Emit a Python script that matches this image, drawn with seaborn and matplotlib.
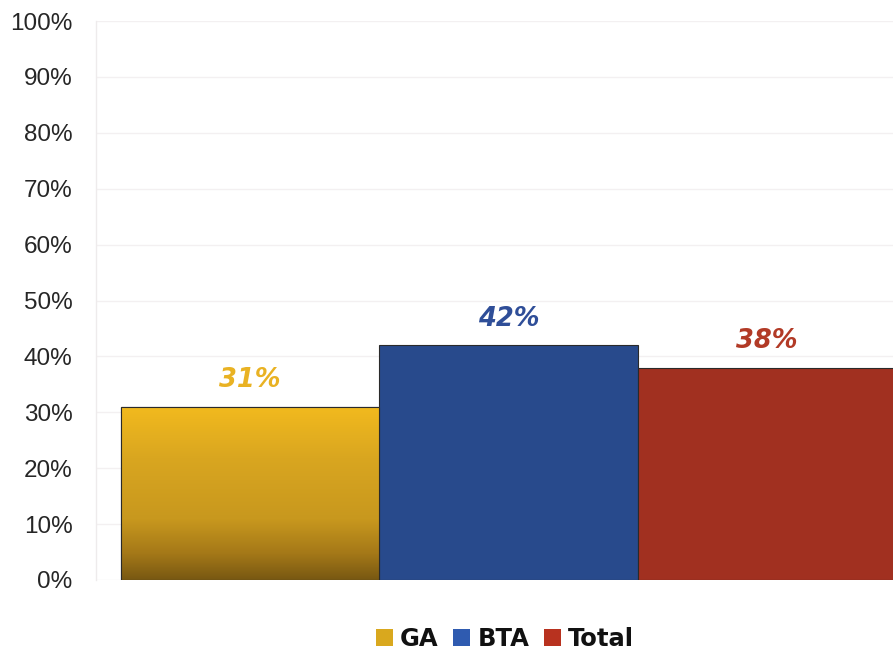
import numpy as np
import matplotlib
matplotlib.use("Agg")
import matplotlib.pyplot as plt
from matplotlib.patches import Patch, Rectangle
from matplotlib.colors import LinearSegmentedColormap
import seaborn as sns

# Share of respondents per group
categories = ["GA", "BTA", "Total"]
values = [31, 42, 38]
bar_colors = ["#D9A21E", "#284A8C", "#A13020"]
label_colors = ["#E9B223", "#2F4E98", "#B23A26"]
yticks = list(range(0, 101, 10))

sns.set_theme(style="white")
plt.rcParams["font.family"] = ["Liberation Sans", "DejaVu Sans"]

fig = plt.figure(figsize=(8.93, 6.56), dpi=100)
ax = fig.add_axes([96 / 893, 76 / 656, 797 / 893, 559 / 656])

sns.barplot(x=categories, y=values, hue=categories, palette=bar_colors,
            saturation=1, width=1.0, legend=False, ax=ax,
            edgecolor="#2a2a2a", linewidth=0.8, zorder=3)

# vertical gold gradient on the GA bar
ga = ax.patches[0]
x0, w = ga.get_x(), ga.get_width()
h = ga.get_height()
cmap = LinearSegmentedColormap.from_list(
    "gold", [(0.0, "#785812"), (0.15, "#A47818"), (0.35, "#C8981E"),
             (0.7, "#D9A620"), (1.0, "#F2BA1E")])
grad = np.linspace(0, 1, 256).reshape(-1, 1)
img = ax.imshow(grad, cmap=cmap, origin="lower", aspect="auto",
                extent=[x0, x0 + w, 0, h], zorder=3.5)
img.set_clip_path(ga)
ax.add_patch(Rectangle((x0, 0), w, h, fill=False, edgecolor="#2a2a2a",
                       linewidth=0.8, zorder=4))

# value labels
for i, (v, c) in enumerate(zip(values, label_colors)):
    ax.text(i, v + 2.4, f"{v}%", ha="center", va="bottom", color=c,
            fontsize=18.5, fontweight="bold", fontstyle="italic",
            family=["DejaVu Sans"], zorder=5)

ax.set_xlim(-0.597, 2.488)
ax.set_ylim(0, 100)
ax.set_yticks(yticks)
ax.set_yticklabels([f"{t}%" for t in yticks], fontsize=17.5, color="#262626")
ax.set_xticks([])
ax.tick_params(axis="y", length=0, pad=17)
ax.set_xlabel("")
ax.set_ylabel("")

ax.yaxis.grid(True, color="#F3F0F1", linewidth=1.0, zorder=0)
ax.set_axisbelow(True)
for s in ["top", "right", "bottom"]:
    ax.spines[s].set_visible(False)
ax.spines["left"].set_color("#EEEBEC")
ax.spines["left"].set_linewidth(1.0)

handles = [Patch(facecolor=c, edgecolor="none") for c in ["#D9A81E", "#2F5BB0", "#B8321F"]]
fig.legend(handles, categories, loc="center", bbox_to_anchor=(505 / 893, 17 / 656),
           ncol=3, frameon=False, handlelength=0.7, handleheight=0.7,
           handletextpad=0.3, columnspacing=0.6, labelcolor="#111111",
           prop={"family": "DejaVu Sans", "weight": "bold", "size": 17.5})

fig.savefig("out.png", dpi=100, facecolor="white")
